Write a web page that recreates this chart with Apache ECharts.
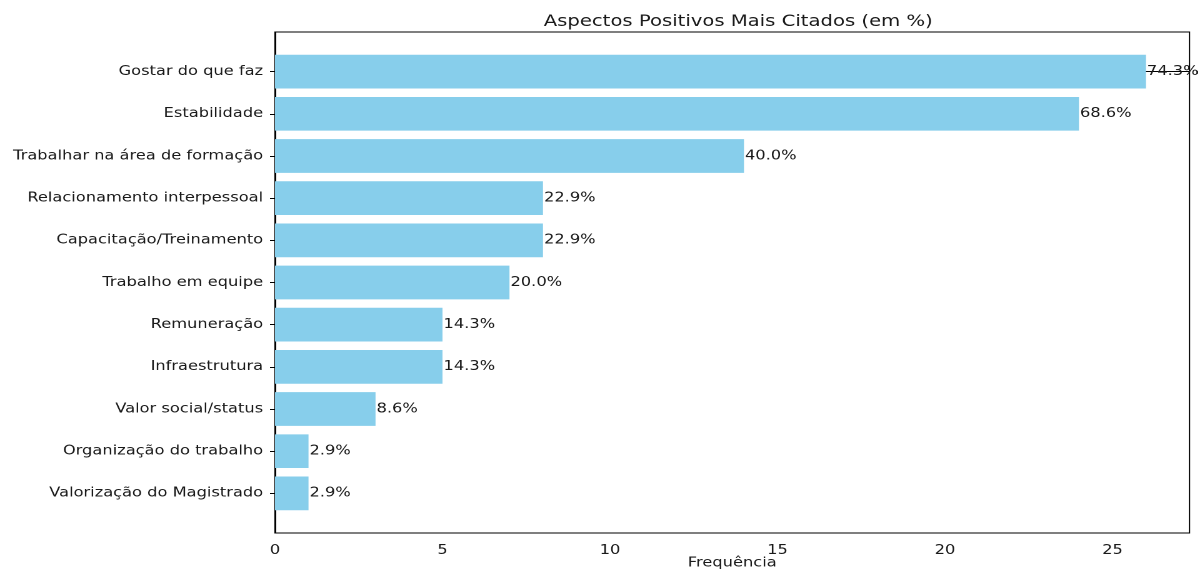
<!DOCTYPE html>
<html>
<head>
<meta charset="utf-8">
<script src="https://cdn.jsdelivr.net/npm/echarts@6/dist/echarts.min.js"></script>
<style>
html,body{margin:0;padding:0;background:#fff;overflow:hidden}
#wrap{width:1198px;height:569px;overflow:hidden}
#c{width:958.4px;height:569px;transform:scaleX(1.25);transform-origin:0 0}
</style>
</head>
<body>
<div id="wrap"><div id="c"></div></div>
<script>
const categories = ['Gostar do que faz','Estabilidade','Trabalhar na área de formação','Relacionamento interpessoal','Capacitação/Treinamento','Trabalho em equipe','Remuneração','Infraestrutura','Valor social/status','Organização do trabalho','Valorização do Magistrado'];
const counts = [26, 24, 14, 8, 8, 7, 5, 5, 3, 1, 1];
const pctLabels = ['74.3%','68.6%','40.0%','22.9%','22.9%','20.0%','14.3%','14.3%','8.6%','2.9%','2.9%'];
const xTicks = [0, 5, 10, 15, 20, 25];

const SX = 1.25; // horizontal stretch of the reference rendering
const FONT = 'DejaVu Sans';
const TXT = '#1a1a1a';
const chart = echarts.init(document.getElementById('c'), null, {renderer: 'canvas', devicePixelRatio: 2});
const data = counts.map((v, i) => [v, i]);
const yIdx = categories.map((c, i) => i);
chart.setOption({
  animation: false,
  backgroundColor: '#fff',
  textStyle: {fontFamily: FONT},
  title: {
    text: 'Aspectos Positivos Mais Citados (em %)',
    left: 732 / SX, top: 9, textAlign: 'center',
    textStyle: {fontFamily: FONT, fontSize: 15.7, fontWeight: 'normal', color: TXT}
  },
  grid: {left: 275 / SX, right: 8 / SX, top: 32, bottom: 36, outerBoundsMode: 'none', containLabel: false,
    show: true, borderColor: '#000', borderWidth: 1, backgroundColor: 'transparent'},
  xAxis: {
    type: 'value', min: 0, max: 27.3,
    name: 'Frequência', nameLocation: 'middle', nameGap: 30, nameMoveOverlap: false,
    nameTextStyle: {fontFamily: FONT, fontSize: 13, color: TXT, verticalAlign: 'middle'},
    axisLine: {show: true, lineStyle: {color: '#000', width: 1}},
    axisTick: {show: true, inside: false, length: 5, lineStyle: {color: '#000'}, customValues: xTicks},
    axisLabel: {fontFamily: FONT, fontSize: 13, color: TXT, margin: 11, customValues: xTicks},
    splitLine: {show: false}
  },
  yAxis: {
    type: 'value', min: -0.94, max: 10.94, inverse: true,
    axisLine: {show: true, lineStyle: {color: '#000', width: 1}},
    axisTick: {show: true, inside: false, length: 4, lineStyle: {color: '#000'}, customValues: yIdx},
    axisLabel: {fontFamily: FONT, fontSize: 13, color: TXT, margin: 9.5,
      customValues: yIdx,
      formatter: v => categories[Math.round(v)] || ''},
    splitLine: {show: false}
  },
  series: [{
    type: 'custom',
    data: data,
    encode: {x: 0, y: 1},
    renderItem: function (params, api) {
      const v = api.value(0), y = api.value(1);
      const p0 = api.coord([0, y - 0.4]);
      const p1 = api.coord([v, y + 0.4]);
      const pc = api.coord([v, y]);
      const top = Math.min(p0[1], p1[1]);
      const h = Math.abs(p1[1] - p0[1]);
      return {
        type: 'group',
        children: [
          {type: 'rect', shape: {x: p0[0], y: top, width: p1[0] - p0[0], height: h}, style: {fill: '#87CEEB'}},
          {type: 'text', x: pc[0] + 0.8, y: pc[1], style: {text: pctLabels[params.dataIndex], fill: TXT, font: '13px "DejaVu Sans"', textAlign: 'left', textVerticalAlign: 'middle'}}
        ]
      };
    }
  }]
});
</script>
</body>
</html>
